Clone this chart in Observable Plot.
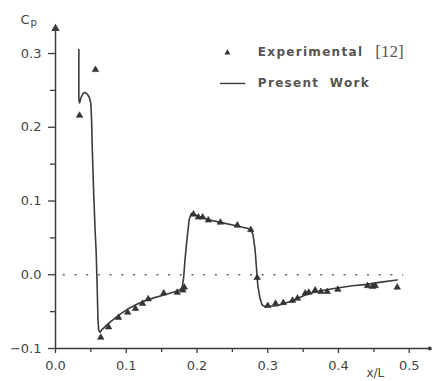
<!DOCTYPE html>
<html>
<head>
<meta charset="utf-8">
<script src="https://cdn.jsdelivr.net/npm/d3@7"></script>
<script src="https://cdn.jsdelivr.net/npm/@observablehq/plot@0.6"></script>
<style>
  html, body { margin: 0; padding: 0; background: #fff; }
  #chart { width: 434px; height: 381px; }
</style>
</head>
<body>
<div id="chart"></div>
<script>
// Present Work (computed curve)
const curveX = [0.033, 0.033, 0.034, 0.036, 0.039, 0.042, 0.045, 0.048, 0.050, 0.051, 0.052, 0.054, 0.056, 0.0575, 0.059, 0.060, 0.061, 0.063,
  0.066, 0.075, 0.085, 0.095, 0.105, 0.115, 0.127, 0.140, 0.151, 0.165, 0.175, 0.179, 0.181, 0.183, 0.186, 0.189, 0.192,
  0.198, 0.215, 0.233, 0.257, 0.275, 0.279, 0.282, 0.284, 0.286, 0.289, 0.292, 0.296,
  0.313, 0.336, 0.356, 0.379, 0.398, 0.420, 0.440, 0.460, 0.483];
const curveY = [0.3055, 0.237, 0.233, 0.240, 0.246, 0.247, 0.245, 0.240, 0.232, 0.210, 0.170, 0.110, 0.060, 0.030, -0.020, -0.060, -0.075, -0.078,
  -0.074, -0.066, -0.058, -0.051, -0.045, -0.040, -0.035, -0.031, -0.028, -0.024, -0.021, -0.017, -0.005, 0.020, 0.050, 0.075, 0.083,
  0.081, 0.075, 0.071, 0.066, 0.062, 0.055, 0.035, 0.010, -0.015, -0.032, -0.041, -0.043,
  -0.042, -0.035, -0.026, -0.021, -0.018, -0.015, -0.013, -0.010, -0.007];

// Experimental [12]
const expX = [0.034, 0.0565, 0.064, 0.075, 0.089, 0.102, 0.113, 0.123, 0.131, 0.153, 0.172, 0.180, 0.182,
  0.195, 0.202, 0.208, 0.216, 0.233, 0.257, 0.276, 0.285,
  0.300, 0.311, 0.322, 0.335, 0.342, 0.353, 0.358, 0.367, 0.375, 0.384, 0.399, 0.441, 0.448, 0.452, 0.483];
const expY = [0.216, 0.278, -0.085, -0.071, -0.058, -0.051, -0.046, -0.039, -0.033, -0.025, -0.024, -0.021, -0.017,
  0.082, 0.078, 0.078, 0.074, 0.071, 0.067, 0.061, -0.004,
  -0.042, -0.039, -0.038, -0.035, -0.032, -0.025, -0.024, -0.021, -0.023, -0.023, -0.020, -0.015, -0.016, -0.015, -0.017];

const xTicks = [0, 0.1, 0.2, 0.3, 0.4, 0.5];
const xMinor = [0.05, 0.15, 0.25, 0.35, 0.45];
const yTicks = [-0.1, 0, 0.1, 0.2, 0.3];
const yMinor = [-0.05, 0.05, 0.15, 0.25];
const legendLabels = ["Experimental", "Present Work"];
const refLabel = "[12]";

const curve = curveX.map((x, i) => ({x, y: curveY[i]}));
const exp = expX.map((x, i) => ({x, y: expY[i]}));

const ink = "#3c3c3c";
const fmt = d3.format(".1f");
const blank = () => "";

const plot = Plot.plot({
  width: 434,
  height: 381,
  marginLeft: 55,
  marginRight: 4,
  marginTop: 25,
  marginBottom: 33,
  style: {background: "#fff", color: ink, fontFamily: "DejaVu Sans, sans-serif"},
  x: {domain: [0, 0.53]},
  y: {domain: [-0.1, 0.338]},
  marks: [
    // zero reference dotted line
    Plot.ruleY([0], {x1: 0.011, x2: 0.492, stroke: "#666", strokeWidth: 1.6, strokeDasharray: "2,9.7"}),
    // axes lines
    Plot.ruleX([0], {y1: -0.1, y2: 0.336, stroke: ink, strokeWidth: 1.5}),
    Plot.ruleY([-0.1], {x1: 0, x2: 0.53, stroke: ink, strokeWidth: 1.5}),
    Plot.dot([{x: 0, y: 0.334}], {x: "x", y: "y", symbol: "triangle", r: 2.2, fill: ink, stroke: ink}),
    Plot.dot([{x: 0.529, y: -0.1}], {x: "x", y: "y", symbol: "circle", r: 2, fill: ink}),
    Plot.axisX({ticks: xTicks, tickSize: 5, tickPadding: 7, tickFormat: fmt, fontSize: 13, stroke: ink, strokeWidth: 1.3, fill: "#444", label: null}),
    Plot.axisX({ticks: xMinor, tickSize: 4, tickFormat: blank, stroke: ink, strokeWidth: 1.3, label: null}),
    Plot.axisY({ticks: yTicks, tickSize: 7, tickPadding: 7, tickFormat: fmt, fontSize: 13, stroke: ink, strokeWidth: 1.3, fill: "#444", label: null}),
    Plot.axisY({ticks: yMinor, tickSize: 5, tickFormat: blank, stroke: ink, strokeWidth: 1.3, label: null}),
    // axis labels
    Plot.text(["C"], {x: -0.043, y: 0.346, text: d => d, fontSize: 13, fill: "#444"}),
    Plot.text(["p"], {x: -0.031, y: 0.341, text: d => d, fontSize: 10, fill: "#444"}),
    Plot.text(["x/L"], {x: 0.452, y: -0.133, text: d => d, fontSize: 12, fill: "#444"}),
    // data
    Plot.line(curve, {x: "x", y: "y", stroke: ink, strokeWidth: 1.6, curve: "linear"}),
    Plot.dot(exp, {x: "x", y: "y", symbol: "triangle", r: 2.4, fill: "#333", stroke: "#333", strokeWidth: 0.6}),
    // legend
    Plot.dot([{x: 0.243, y: 0.301}], {x: "x", y: "y", symbol: "triangle", r: 2.2, fill: "#333"}),
    Plot.text([legendLabels[0]], {x: 0.286, y: 0.302, text: d => d, textAnchor: "start", fontSize: 12, fontWeight: "bold", fill: "#555"}),
    Plot.text([refLabel], {x: 0.452, y: 0.303, text: d => d, textAnchor: "start", fontSize: 17, fontFamily: "Liberation Serif, serif", fill: "#555"}),
    Plot.ruleY([0.2594], {x1: 0.233, x2: 0.269, stroke: ink, strokeWidth: 1.4}),
    Plot.text([legendLabels[1]], {x: 0.286, y: 0.2594, text: d => d, textAnchor: "start", fontSize: 12, fontWeight: "bold", fill: "#555"})
  ]
});
// widen the legend lettering like the original stencil type
d3.select(plot).selectAll("text")
  .filter(function () { return legendLabels.includes(this.textContent); })
  .style("letter-spacing", "1.3px")
  .style("word-spacing", "5px");
document.getElementById("chart").appendChild(plot);
</script>
</body>
</html>
